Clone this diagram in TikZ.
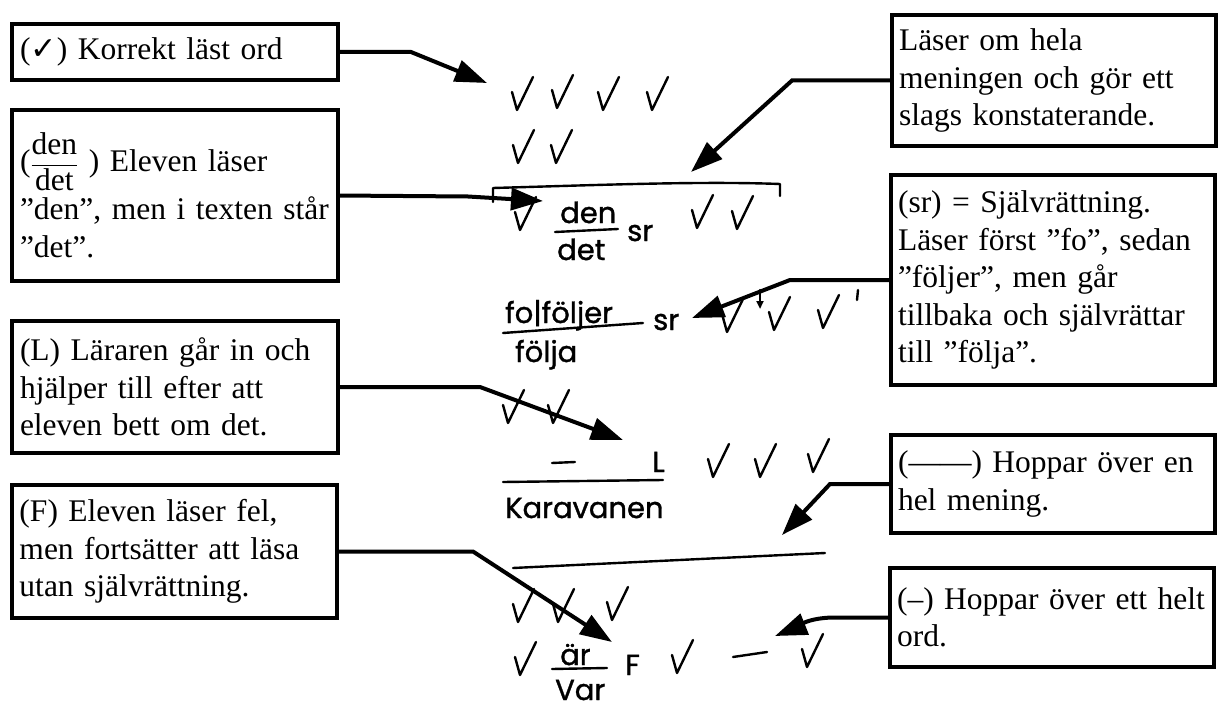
\documentclass[tikz,border=0pt]{standalone}
\usepackage{amsmath}
\usepackage{fontspec}
\setmainfont{Liberation Serif}
\newfontfamily\handfont[FakeBold=1.2]{Poppins}
\newfontfamily\symfont{DejaVu Sans}
\usetikzlibrary{arrows.meta}

\tikzset{
  ruta/.style={draw, line width=4pt, outer sep=0pt, anchor=north west, align=left,
    text width=310pt, inner xsep=7pt, font=\fontsize{31.5}{37.5}\selectfont},
  pil/.style={line width=4pt, -{Triangle[length=32pt,width=22pt]}},
  hand/.style={line width=2.4pt, line cap=round, line join=round},
  skrift/.style={anchor=base west, inner sep=0pt, font=\handfont\fontsize{29}{30}\selectfont},
  chk/.pic={\draw[hand] (-5,-18) -- (0,0) -- (16,-33);}
}

\begin{document}
\begin{tikzpicture}[x=1pt, y=-1pt]
  \useasboundingbox (0,0) rectangle (1218,714);

  % rutor till vanster
  \node[ruta, minimum width=326pt, minimum height=56pt] (korrekt) at (12,24)
    {({\symfont ✓}) Korrekt läst ord};
  \node[ruta, minimum width=326pt, minimum height=171pt] (denbox) at (12,110)
    {($\dfrac{\text{den}}{\text{det}}$ ) Eleven läser\\[5pt] ”den”, men i texten står\\ ”det”.};
  \node[ruta, minimum width=326pt, minimum height=132pt] (larbox) at (12,321)
    {(L) Läraren går in och\\ hjälper till efter att\\ eleven bett om det.};
  \node[ruta, minimum width=325pt, minimum height=133pt] (felbox) at (12,485)
    {(F) Eleven läser fel,\\ men fortsätter att läsa\\ utan självrättning.};

  % rutor till hoger
  \node[ruta, minimum width=322pt, minimum height=131pt] (omlas) at (892,15)
    {Läser om hela\\ meningen och gör ett\\ slags konstaterande.};
  \node[ruta, minimum width=323pt, minimum height=210pt] (sjalv) at (891,175)
    {(sr) = Självrättning.\\ Läser först ”fo”, sedan\\ ”följer”, men går\\ tillbaka och självrättar\\ till ”följa”.};
  \node[ruta, minimum width=323pt, minimum height=98pt] (mening) at (891,435)
    {(——) Hoppar över en\\ hel mening.};
  \node[ruta, minimum width=324pt, minimum height=99pt] (ord) at (890,568)
    {(–) Hoppar över ett helt\\ ord.};

  % elevens text
  \node[skrift] (den) at (560,223) {den};
  \node[skrift] (det) at (557,260) {det};
  \node[skrift] (sr1) at (627,241) {sr};
  \node[skrift] (fol) at (505,323) {fo|följer};
  \node[skrift] (folja) at (515,362) {följa};
  \node[skrift] (sr2) at (653,330) {sr};
  \node[skrift] (lar) at (652,472) {L};
  \node[skrift] (karavan) at (505,518) {Karavanen};
  \node[skrift] (ar) at (560,665) {är};
  \node[skrift] (var) at (555,700) {Var};
  \node[skrift] (fel) at (625,675) {F};

  \draw[hand] (493,202) -- (493,188) .. controls (600,185) and (700,181) .. (780,184) -- (780,196);
  \draw[hand] (555,232) -- (618,229);
  \draw[hand] (503,333) -- (643,323);
  \draw[hand] (552,463) -- (575,462);
  \draw[hand] (503,482) -- (663,480);
  \draw[hand] (513,568) -- (825,553);
  \draw[hand] (552,669) -- (607,668);
  \draw[hand] (733,657) -- (767,652);
  \draw[hand, -{Triangle[length=8pt,width=7pt]}] (760,290) -- (760,309);
  \draw[hand] (858,290) -- (857,300);

  \foreach \p in {(517,110),(557,108),(603,110),(652,110),(518,163),(556,163),
                  (520,230),(697,228),(737,229),(727,332),(774,330),(823,328),
                  (508,423),(553,423),(713,477),(760,477),(813,472),
                  (518,622),(558,622),(612,620),(520,675),(677,673),(807,667)}
    \pic at \p {chk};

  % pilar
  \coordinate (t1) at (487,83);
  \coordinate (t2) at (543,201);
  \coordinate (t3) at (623,440);
  \coordinate (t4) at (612,642);
  \coordinate (t5) at (691,172);
  \coordinate (t6) at (692,318);
  \coordinate (t7) at (782,535);
  \coordinate (t8) at (775,636);

  \draw[pil] (korrekt.east) -- ++(73,0) -- (t1);
  \draw[pil] (denbox.east) -- ++(130,1) -- (t2);
  \draw[pil] (larbox.east) -- ++(142,0) -- (t3);
  \draw[pil] (felbox.east) -- ++(136,0) -- (t4);
  \draw[pil] (omlas.west) -- ++(-100,0) -- (t5);
  \draw[pil] (sjalv.west) -- ++(-101,0) -- (t6);
  \draw[pil] (mening.west) -- ++(-61,0) -- (t7);
  \draw[pil] (ord.west) -- ++(-57,0) .. controls (805,618) and (795,628) .. (t8);
\end{tikzpicture}
\end{document}
